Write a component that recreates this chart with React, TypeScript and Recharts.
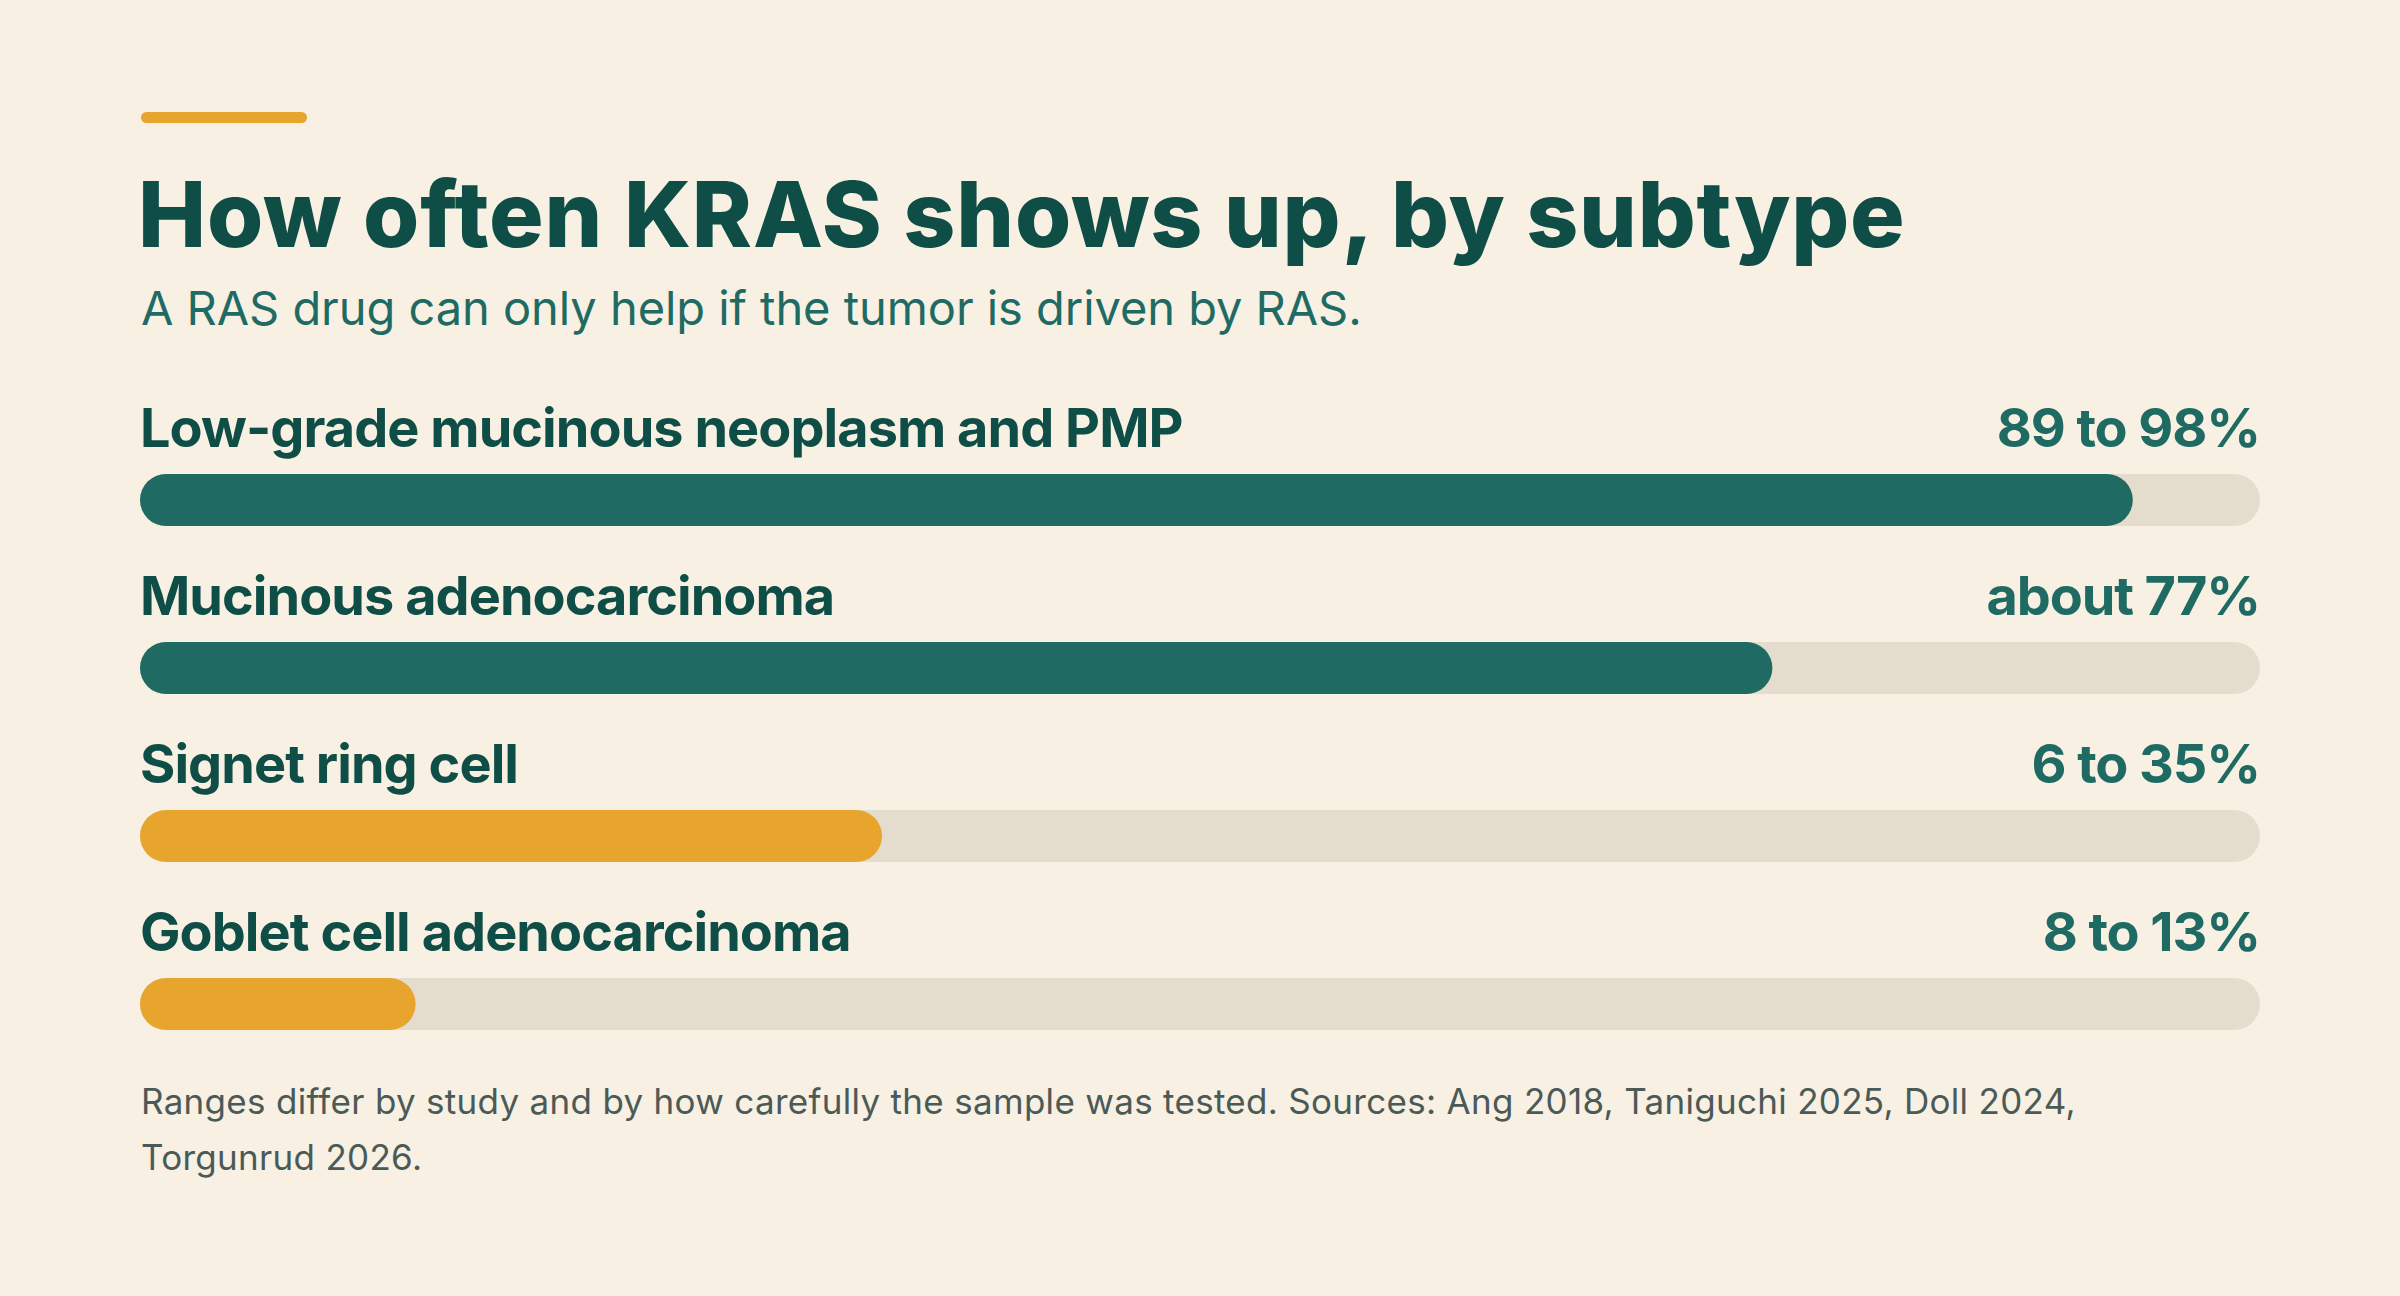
import React from "react";
import { BarChart, Bar, XAxis, YAxis, Cell, LabelList } from "recharts";

const categories = [
  "Low-grade mucinous neoplasm and PMP",
  "Mucinous adenocarcinoma",
  "Signet ring cell",
  "Goblet cell adenocarcinoma",
];
const shareValues = [94, 77, 35, 13];
const rangeLabels = ["89 to 98%", "about 77%", "6 to 35%", "8 to 13%"];
const xTicks = [0, 100];

const W = 2400;
const H = 1296;
const MARGIN = { top: 416, right: 140, bottom: 208, left: 140 };
const BG = "#f7f0e3";
const TRACK = "#e4ddcd";
const TEAL = "#1f6b63";
const DARK = "#0f4d47";
const ORANGE = "#e8a52e";
const FONT = "Inter, 'Noto Sans', sans-serif";
const barColor = (i: number) => (i < 2 ? TEAL : ORANGE);

const data = categories.map((name, i) => ({
  name,
  value: shareValues[i],
  range: rangeLabels[i],
}));

const NameLabel = (props: any) => {
  const { x, y, value } = props;
  return (
    <text
      x={x}
      y={y - 27}
      fill={DARK}
      fontFamily={FONT}
      fontWeight={700}
      fontSize={54}
      letterSpacing={-0.95}
    >
      {value}
    </text>
  );
};

const RangeLabel = (props: any) => {
  const { y, value } = props;
  return (
    <text
      x={W - MARGIN.right}
      y={y - 27}
      fill={TEAL}
      fontFamily={FONT}
      fontWeight={700}
      fontSize={54}
      letterSpacing={-1.1}
      textAnchor="end"
    >
      {value}
    </text>
  );
};

export default function App() {
  return (
    <div
      style={{
        position: "absolute",
        left: 0,
        top: 0,
        width: W,
        height: H,
        background: BG,
        overflow: "hidden",
        fontFamily: FONT,
      }}
    >
      <div
        style={{
          position: "absolute",
          left: 141,
          top: 112,
          width: 166,
          height: 11,
          borderRadius: 6,
          background: ORANGE,
        }}
      />
      <div
        style={{
          position: "absolute",
          left: 138,
          top: 159,
          fontSize: 91,
          fontWeight: 800,
          color: DARK,
          letterSpacing: 0.8,
          lineHeight: "110px",
          whiteSpace: "nowrap",
        }}
      >
        How often KRAS shows up, by subtype
      </div>
      <div
        style={{
          position: "absolute",
          left: 141,
          top: 280,
          fontSize: 47,
          fontWeight: 400,
          color: TEAL,
          letterSpacing: -0.05,
          lineHeight: "56px",
          whiteSpace: "nowrap",
        }}
      >
        A RAS drug can only help if the tumor is driven by RAS.
      </div>
      <div style={{ position: "absolute", left: 0, top: 0 }}>
        <BarChart
          width={W}
          height={H}
          data={data}
          layout="vertical"
          margin={MARGIN}
          barSize={52}
        >
          <XAxis type="number" domain={[0, 100]} ticks={xTicks} hide />
          <YAxis type="category" dataKey="name" hide />
          <Bar
            dataKey="value"
            isAnimationActive={false}
            radius={26}
            background={{ fill: TRACK, radius: 26 } as any}
          >
            {data.map((d, i) => (
              <Cell key={d.name} fill={barColor(i)} />
            ))}
            <LabelList dataKey="name" content={NameLabel} />
            <LabelList dataKey="range" content={RangeLabel} />
          </Bar>
        </BarChart>
      </div>
      <div
        style={{
          position: "absolute",
          left: 141,
          top: 1073,
          width: 2130,
          fontSize: 35,
          fontWeight: 400,
          color: "#4b5a57",
          lineHeight: "56px",
          letterSpacing: 0.3,
          whiteSpace: "nowrap",
        }}
      >
        Ranges differ by study and by how carefully the sample was tested. Sources: Ang 2018, Taniguchi 2025, Doll 2024,
        <br />
        Torgunrud 2026.
      </div>
    </div>
  );
}
